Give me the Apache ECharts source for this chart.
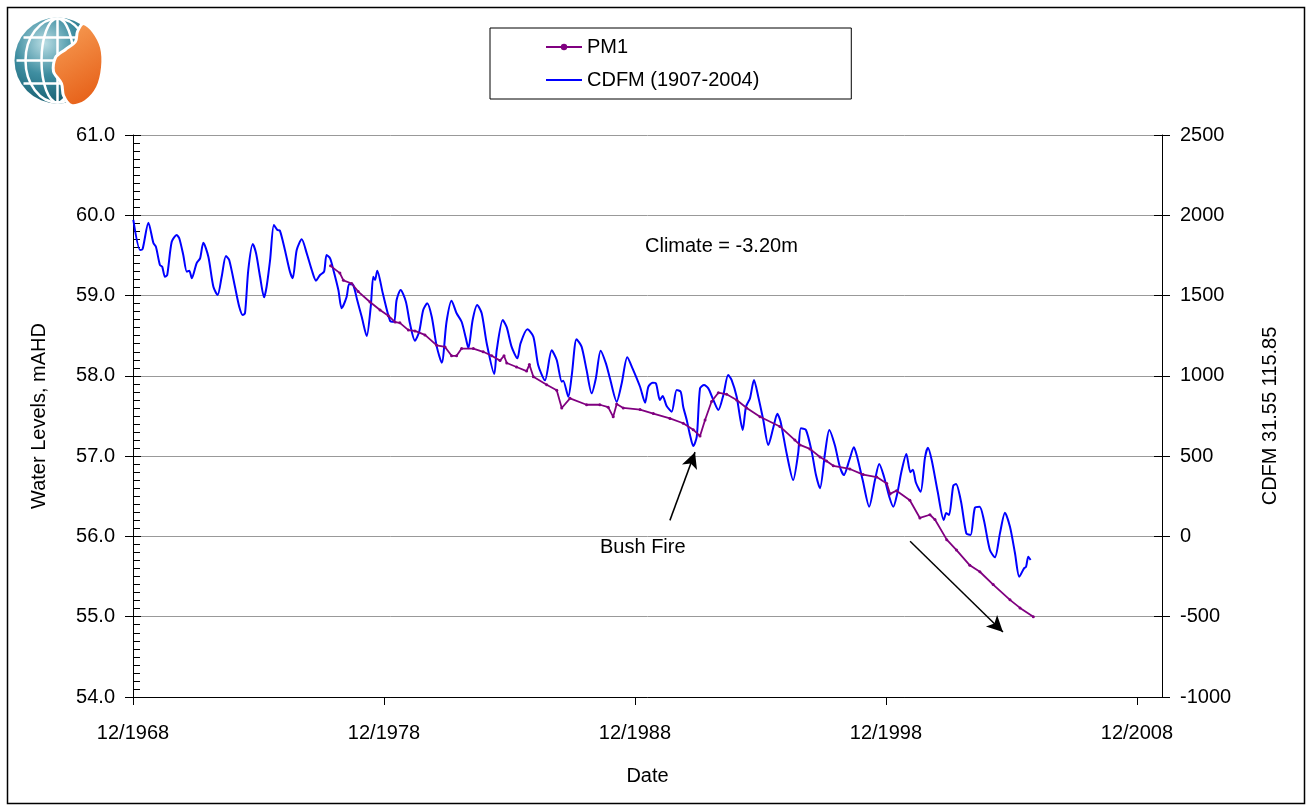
<!DOCTYPE html>
<html lang="en">
<head>
  <meta charset="UTF-8">
  <title>PM1 water levels vs CDFM</title>
  <script src="https://cdn.jsdelivr.net/npm/echarts@6.0.0/dist/echarts.min.js"></script>
  <style>
    html, body { margin: 0; padding: 0; background: #fff; }
    #chart { width: 1308px; height: 807px; }
  </style>
</head>
<body>
  <div id="chart"></div>
<script>
  // x values are decimal years, x axis counts years from 12/1968
  const startYear = 1968.917
  const xTickLabels = ['12/1968', '12/1978', '12/1988', '12/1998', '12/2008']
  const levelTicks = [54, 55, 56, 57, 58, 59, 60, 61]
  const cdfmTicks = [-1000, -500, 0, 500, 1000, 1500, 2000, 2500]

  // CDFM 31.55 115.85 (right axis)
  const cdfmYear = [
    1968.93, 1969.20, 1969.30, 1969.53, 1969.73, 1969.83, 1969.99, 1970.08, 1970.19, 1970.28,
    1970.46, 1970.66, 1970.76, 1970.92, 1971.06, 1971.16, 1971.26, 1971.45, 1971.59, 1971.72,
    1971.92, 1972.12, 1972.29, 1972.45, 1972.62, 1972.75, 1972.98, 1973.15, 1973.29, 1973.38,
    1973.51, 1973.69, 1973.82, 1973.98, 1974.14, 1974.24, 1974.38, 1974.53, 1974.67, 1974.77,
    1974.97, 1975.17, 1975.28, 1975.44, 1975.64, 1975.84, 1976.04, 1976.21, 1976.37, 1976.53,
    1976.63, 1976.77, 1976.92, 1977.10, 1977.23, 1977.43, 1977.53, 1977.69, 1977.85, 1978.03,
    1978.23, 1978.39, 1978.49, 1978.56, 1978.65, 1978.87, 1979.16, 1979.32, 1979.42, 1979.58,
    1979.79, 1979.95, 1980.15, 1980.32, 1980.48, 1980.64, 1980.82, 1981.02, 1981.22, 1981.41,
    1981.61, 1981.81, 1982.01, 1982.18, 1982.28, 1982.45, 1982.63, 1982.81, 1983.01, 1983.31,
    1983.41, 1983.65, 1983.81, 1984.00, 1984.23, 1984.36, 1984.63, 1984.87, 1985.06, 1985.33,
    1985.60, 1985.80, 1986.00, 1986.06, 1986.26, 1986.40, 1986.59, 1986.79, 1986.99, 1987.19,
    1987.36, 1987.55, 1987.76, 1987.92, 1988.19, 1988.39, 1988.61, 1988.82, 1989.12, 1989.32,
    1989.45, 1989.62, 1989.75, 1989.91, 1990.02, 1990.18, 1990.38, 1990.58, 1990.74, 1990.84,
    1990.98, 1991.11, 1991.24, 1991.38, 1991.51, 1991.67, 1991.84, 1992.04, 1992.24, 1992.44,
    1992.63, 1992.77, 1992.97, 1993.21, 1993.34, 1993.50, 1993.66, 1993.83, 1994.03, 1994.23,
    1994.43, 1994.59, 1994.72, 1994.96, 1995.22, 1995.42, 1995.53, 1995.73, 1995.96, 1996.13,
    1996.29, 1996.49, 1996.66, 1996.88, 1997.08, 1997.24, 1997.46, 1997.64, 1997.77, 1997.99,
    1998.25, 1998.48, 1998.65, 1998.84, 1999.05, 1999.21, 1999.37, 1999.54, 1999.73, 1999.89,
    1999.99, 2000.11, 2000.30, 2000.47, 2000.59, 2000.74, 2000.98, 2001.22, 2001.32, 2001.43,
    2001.60, 2001.71, 2001.91, 2002.12, 2002.29, 2002.46, 2002.65, 2002.82, 2003.06, 2003.26,
    2003.46, 2003.66, 2003.86, 2004.06, 2004.23, 2004.42, 2004.50, 2004.59, 2004.68
  ]
  const cdfmValue = [
    1971, 1784, 1790, 1954, 1827, 1804, 1690, 1680, 1617, 1628,
    1835, 1877, 1857, 1753, 1649, 1655, 1608, 1701, 1732, 1829,
    1742, 1555, 1504, 1617, 1746, 1722, 1555, 1431, 1379, 1390,
    1659, 1821, 1763, 1617, 1489, 1555, 1722, 1939, 1908, 1904,
    1784, 1649, 1608, 1784, 1850, 1763, 1659, 1593, 1628, 1649,
    1753, 1732, 1649, 1535, 1421, 1493, 1572, 1566, 1472, 1368,
    1248, 1431, 1617, 1597, 1655, 1514, 1343, 1337, 1472, 1535,
    1462, 1327, 1219, 1275, 1410, 1452, 1368, 1182, 1082, 1337,
    1468, 1390, 1337, 1234, 1172, 1348, 1441, 1390, 1203, 1012,
    1161, 1348, 1302, 1182, 1109, 1203, 1290, 1244, 1068, 972,
    1159, 1099, 964, 970, 870, 1005, 1228, 1182, 1036, 891,
    985, 1157, 1078, 985, 839, 954, 1116, 1047, 932, 833,
    932, 957, 954, 850, 875, 812, 777, 912, 901, 808,
    725, 632, 563, 621, 922, 943, 922, 850, 787, 881,
    1005, 974, 870, 663, 808, 860, 974, 870, 725, 569,
    678, 764, 714, 518, 351, 518, 673, 663, 528, 382,
    300, 518, 663, 569, 434, 382, 476, 555, 496, 351,
    185, 351, 451, 372, 247, 185, 269, 407, 513, 400,
    416, 336, 278, 488, 552, 476, 278, 102, 146, 133,
    316, 326, 216, 19, 9, 178, 185, 102, -85, -130,
    19, 148, 60, -105, -251, -199, -189, -126, -147
  ]

  // PM1 water level, mAHD (left axis)
  const pm1Year = [
    1976.79, 1977.16, 1977.30, 1977.63, 1977.89, 1978.36, 1978.76, 1979.09, 1979.36, 1979.55,
    1979.89, 1980.15, 1980.55, 1981.02, 1981.35, 1981.61, 1981.81, 1982.01, 1982.48, 1982.87,
    1983.21, 1983.54, 1983.70, 1983.81, 1984.20, 1984.60, 1984.71, 1984.87, 1985.40, 1985.80,
    1986.00, 1986.33, 1986.99, 1987.52, 1987.85, 1988.05, 1988.19, 1988.45, 1989.12, 1989.65,
    1990.31, 1990.84, 1991.24, 1991.51, 1991.71, 1991.97, 1992.24, 1992.57, 1992.97, 1993.37,
    1993.90, 1994.69, 1995.29, 1995.49, 1995.89, 1996.29, 1996.55, 1996.82, 1997.48, 1998.01,
    1998.55, 1998.95, 1999.08, 1999.34, 1999.87, 2000.27, 2000.67, 2000.87, 2001.34, 2001.73,
    2002.26, 2002.66, 2003.19, 2003.86, 2004.26, 2004.79
  ]
  const pm1Level = [
    59.37, 59.28, 59.19, 59.15, 59.05, 58.92, 58.82, 58.75, 58.67, 58.66,
    58.57, 58.56, 58.51, 58.38, 58.36, 58.25, 58.25, 58.34, 58.34, 58.30,
    58.25, 58.19, 58.25, 58.16, 58.11, 58.06, 58.14, 57.99, 57.89, 57.82,
    57.60, 57.72, 57.64, 57.64, 57.61, 57.49, 57.65, 57.60, 57.58, 57.53,
    57.47, 57.41, 57.33, 57.25, 57.45, 57.68, 57.79, 57.77, 57.70, 57.60,
    57.49, 57.37, 57.20, 57.14, 57.09, 56.99, 56.94, 56.88, 56.84, 56.77,
    56.74, 56.66, 56.53, 56.57, 56.45, 56.23, 56.27, 56.21, 55.96, 55.83,
    55.64, 55.56, 55.40, 55.21, 55.11, 55.00
  ]

  // annotation arrows: [fromYear, fromLevel, toYear, toLevel]
  const arrows = [
    [1990.31, 56.20, 1991.31, 57.05],
    [1999.88, 55.94, 2003.58, 54.81]
  ]

  const font = 'Liberation Sans, Arial, sans-serif'
  const toX = y => +(y - startYear).toFixed(3)

  let myCharts = echarts.init(document.getElementById('chart'))

  // logo: globe with orange state
  const logo = {
    type: 'group',
    left: 14, top: 16,
    children: [
      {
        type: 'circle', shape: { cx: 44, cy: 43, r: 43 },
        style: {
          fill: new echarts.graphic.RadialGradient(0.35, 0.3, 0.8, [
            { offset: 0, color: '#b9dde4' },
            { offset: 0.45, color: '#3f8ea1' },
            { offset: 1, color: '#0c5466' }
          ])
        }
      },
      { type: 'ellipse', shape: { cx: 44, cy: 43, rx: 16, ry: 42 }, style: { stroke: '#fff', lineWidth: 2.5, fill: null } },
      { type: 'ellipse', shape: { cx: 44, cy: 43, rx: 32, ry: 42 }, style: { stroke: '#fff', lineWidth: 2.5, fill: null } },
      { type: 'line', shape: { x1: 44, y1: 1, x2: 44, y2: 85 }, style: { stroke: '#fff', lineWidth: 2.5 } },
      { type: 'line', shape: { x1: 3, y1: 43, x2: 85, y2: 43 }, style: { stroke: '#fff', lineWidth: 2.5 } },
      { type: 'line', shape: { x1: 10, y1: 20, x2: 78, y2: 20 }, style: { stroke: '#fff', lineWidth: 2.5 } },
      { type: 'line', shape: { x1: 10, y1: 66, x2: 78, y2: 66 }, style: { stroke: '#fff', lineWidth: 2.5 } },
      {
        type: 'polygon',
        shape: {
          points: [[70, 6], [64, 14], [62, 24], [52, 32], [42, 40], [40, 54], [48, 66], [50, 78],
            [58, 88], [72, 84], [84, 70], [89, 50], [88, 30], [80, 14]],
          smooth: 0.3
        },
        style: {
          fill: new echarts.graphic.LinearGradient(0, 0, 1, 1, [
            { offset: 0, color: '#f8a25a' },
            { offset: 1, color: '#e4570f' }
          ]),
          stroke: '#fff', lineWidth: 3
        }
      }
    ]
  }

  let option = {
    animation: false,
    backgroundColor: '#fff',
    textStyle: { fontFamily: font, color: '#000' },
    grid: { left: 133, right: 146, top: 135, bottom: 110 },
    legend: {
      orient: 'vertical',
      left: 490, top: 28,
      padding: [9, 92, 9, 55],
      itemGap: 13,
      itemWidth: 36, itemHeight: 8,
      borderColor: '#000', borderWidth: 1,
      textStyle: { fontSize: 20, color: '#000', fontFamily: font },
      data: [
        { name: 'PM1' },
        { name: 'CDFM (1907-2004)', itemStyle: { opacity: 0 } }
      ]
    },
    xAxis: {
      type: 'value',
      min: 0, max: 41, interval: 10,
      name: 'Date', nameLocation: 'middle', nameGap: 69,
      nameTextStyle: { fontSize: 20, color: '#000' },
      axisLine: { onZero: false, lineStyle: { color: '#000', width: 1 } },
      axisTick: { show: true, length: 8, lineStyle: { color: '#000' } },
      axisLabel: {
        fontSize: 20, color: '#000', margin: 26,
        formatter: v => xTickLabels[Math.round(v / 10)] || ''
      },
      splitLine: { show: false }
    },
    yAxis: [
      {
        type: 'value', position: 'left',
        min: levelTicks[0], max: levelTicks[levelTicks.length - 1], interval: 1,
        name: 'Water Levels, mAHD', nameLocation: 'middle', nameGap: 84, nameRotate: 90,
        nameTextStyle: { fontSize: 20, color: '#000' },
        axisLine: { show: true, lineStyle: { color: '#000' } },
        axisTick: { show: true, length: 8, lineStyle: { color: '#000' } },
        axisLabel: { fontSize: 20, color: '#000', margin: 18, formatter: v => v.toFixed(1) },
        splitLine: { show: true, lineStyle: { color: '#999', width: 1 } }
      },
      {
        type: 'value', position: 'right',
        min: cdfmTicks[0], max: cdfmTicks[cdfmTicks.length - 1], interval: 500,
        name: 'CDFM 31.55 115.85', nameLocation: 'middle', nameGap: 98, nameRotate: 90,
        nameTextStyle: { fontSize: 20, color: '#000' },
        axisLine: { show: true, lineStyle: { color: '#000' } },
        axisTick: { show: true, length: 8, lineStyle: { color: '#000' } },
        axisLabel: { fontSize: 20, color: '#000', margin: 18, formatter: v => String(v) },
        splitLine: { show: false }
      },
      {
        // inner half of crossing ticks + minor ticks on the left axis
        type: 'value', position: 'left',
        min: levelTicks[0], max: levelTicks[levelTicks.length - 1], interval: 1,
        axisLine: { show: false },
        axisTick: { show: true, inside: true, length: 8, lineStyle: { color: '#000' } },
        minorTick: { show: true, splitNumber: 10, length: 7, lineStyle: { color: '#000' } },
        axisLabel: { show: false },
        splitLine: { show: false }
      },
      {
        type: 'value', position: 'right',
        min: cdfmTicks[0], max: cdfmTicks[cdfmTicks.length - 1], interval: 500,
        axisLine: { show: false },
        axisTick: { show: true, inside: true, length: 8, lineStyle: { color: '#000' } },
        axisLabel: { show: false },
        splitLine: { show: false }
      }
    ],
    graphic: [
      {
        type: 'rect', left: 5, top: 5,
        shape: { width: 1297, height: 796 },
        style: { fill: null, stroke: '#000', lineWidth: 1.5 }
      },
      logo,
      {
        type: 'text', left: 645, top: 236,
        style: { text: 'Climate = -3.20m', font: '20px ' + font, fill: '#000' }
      },
      {
        type: 'text', left: 600, top: 537,
        style: { text: 'Bush Fire', font: '20px ' + font, fill: '#000' }
      }
    ],
    series: [
      {
        name: 'PM1',
        type: 'line',
        yAxisIndex: 0,
        data: pm1Year.map((y, i) => [toX(y), pm1Level[i]]),
        showSymbol: true,
        symbol: 'circle',
        symbolSize: 3,
        itemStyle: { color: '#800080' },
        lineStyle: { color: '#800080', width: 1.8 },
        z: 3,
        markLine: {
          silent: true,
          symbol: ['none', 'arrow'],
          symbolSize: [12, 16],
          label: { show: false },
          lineStyle: { color: '#000', width: 1.5, type: 'solid' },
          data: arrows.map(a => [{ coord: [toX(a[0]), a[1]] }, { coord: [toX(a[2]), a[3]] }])
        }
      },
      {
        name: 'CDFM (1907-2004)',
        type: 'line',
        yAxisIndex: 1,
        data: cdfmYear.map((y, i) => [toX(y), cdfmValue[i]]),
        symbol: 'none',
        smooth: 0.25,
        itemStyle: { color: '#0000ff' },
        lineStyle: { color: '#0000ff', width: 2 },
        z: 2
      }
    ]
  }
  myCharts.setOption(option)
</script>
</body>
</html>
